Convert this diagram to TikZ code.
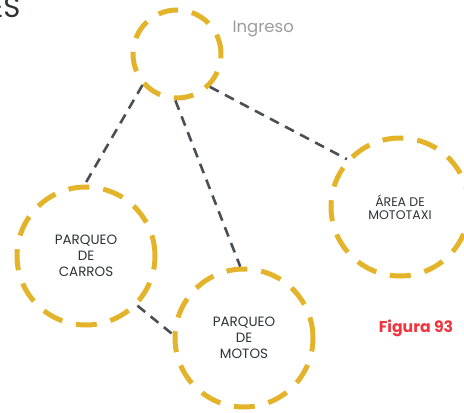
\documentclass[tikz,border=0pt]{standalone}
\usepackage{fontspec}
\setmainfont{Poppins}
\usepackage{tikz}
\usetikzlibrary{positioning}
\definecolor{gold}{HTML}{E3B42A}
\definecolor{ink}{HTML}{2E3136}
\definecolor{linkgray}{HTML}{4A4F56}
\definecolor{soft}{HTML}{9C9C9C}
\definecolor{figred}{HTML}{F0353F}

\begin{document}
\begin{tikzpicture}[x=1pt,y=-1pt,
  zone/.style={circle,draw=gold,line width=5pt,dash pattern=on 21pt off 14pt,
               minimum size=138pt,inner sep=0pt,align=center,
               font=\fontsize{13.5}{16}\selectfont,text=ink},
  link/.style={draw=linkgray,line width=2.6pt,dash pattern=on 10pt off 7pt}]
  \useasboundingbox (0,0) rectangle (464,413);
  \node[anchor=base east,font=\fontsize{29}{29}\selectfont,text=ink] (head) at (24,17) {ES};
  \node[zone,minimum size=88pt,dash pattern=on 20pt off 14pt] (ing) at (177,54) {};
  \node[anchor=west,font=\fontsize{16.5}{16.5}\selectfont,text=soft] (inglbl) at (229,29) {Ingreso};
  \node[zone] (car) at (86,256) {PARQUEO\\DE\\CARROS};
  \node[zone] (mot) at (244,338) {PARQUEO\\DE\\MOTOS};
  \node[zone,font=\fontsize{12.5}{12.5}\selectfont] (tax) at (400,207) {ÁREA DE\\MOTOTAXI};
  \node[font=\fontsize{15.7}{15.7}\bfseries\selectfont,text=figred] (fig) at (416,328) {Figura 93};
  \draw[link] (ing.222) -- (car.91);
  \draw[link] (ing.268) -- (mot.93);
  \draw[link] (ing.-45) -- (tax.138);
  \draw[link] (car.-44) -- (mot.177);
\end{tikzpicture}
\end{document}
